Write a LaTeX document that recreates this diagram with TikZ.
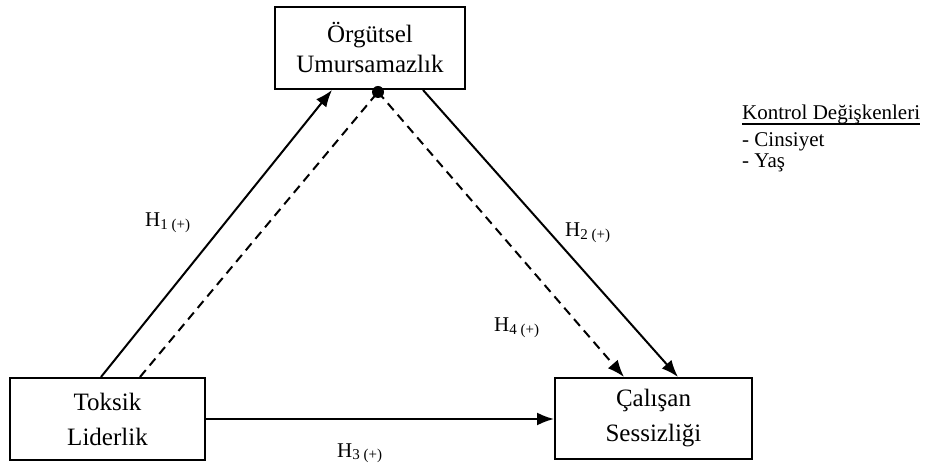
\documentclass[tikz,border=0pt]{standalone}
\usepackage{fontspec}
\setmainfont{Liberation Serif}
\usetikzlibrary{arrows.meta,calc}
\tikzset{
    kutu/.style={draw,line width=2pt,inner sep=0pt,align=center,font=\fontsize{25}{35}\selectfont},
    ok/.style={line width=2pt,-{Latex[length=17pt,width=13pt]}},
    kesikcizgi/.style={line width=2pt,dash pattern=on 9pt off 6pt},
    kesikok/.style={ok,dash pattern=on 9pt off 6pt},
    etiket/.style={inner sep=0pt,anchor=base west,font=\fontsize{21}{21}\selectfont},
    liste/.style={etiket,font=\fontsize{21}{21}\selectfont},
  }
\newcommand{\hip}[1]{H\raisebox{-2.5pt}{\fontsize{15}{15}\selectfont #1 (+)}}
\begin{document}
\begin{tikzpicture}[x=1pt,y=1pt]
				  \useasboundingbox (0,0) rectangle (940,466);
				  %KUTULAR
				  \node[kutu,minimum width=190pt,minimum height=82pt,font=\fontsize{25}{30}\selectfont] (orgut) at (370,418) {Örgütsel\\Umursamazlık};
				  \node[kutu,minimum width=195pt,minimum height=82pt] (toksik) at (107.5,47) {Toksik\\Liderlik};
				  \node[kutu,minimum width=197pt,minimum height=81pt] (sessiz) at (653.5,47.5) {Çalışan\\Sessizliği};
				  %H1, H2, H3
				  \draw[ok] ([xshift=-6.5pt]toksik.north) -- ([xshift=-38pt]orgut.south);
				  \draw[ok] ([xshift=53pt]orgut.south) -- ([xshift=24.5pt]sessiz.north);
				  \draw[ok] (toksik.east) -- (toksik.east -| sessiz.west);
				  %H4 aracilik
				  \coordinate (nokta) at ([xshift=8pt,yshift=-2pt]orgut.south);
				  \draw[kesikcizgi] ([xshift=32.5pt]toksik.north) -- (nokta);
				  \draw[kesikok] (nokta) -- ([xshift=-29.5pt]sessiz.north);
				  \fill (nokta) circle (6pt);
				  %etiketler
				  \node[etiket] (h1) at (145,239) {\hip{1}};
				  \node[etiket] (h2) at (565,229) {\hip{2}};
				  \node[etiket] (h3) at (337,9) {\hip{3}};
				  \node[etiket] (h4) at (494,134) {\hip{4}};
				  %kontrol
				  \node[liste] (kontrol) at (742,346) {Kontrol Değişkenleri};
				  \draw[line width=1.2pt] ([yshift=-4pt]kontrol.base west) -- ([yshift=-4pt]kontrol.base east);
				  \node[liste] (cinsiyet) at (742,319) {- Cinsiyet};
				  \node[liste] (yas) at (742,298) {- Yaş};
\end{tikzpicture}
\end{document}
